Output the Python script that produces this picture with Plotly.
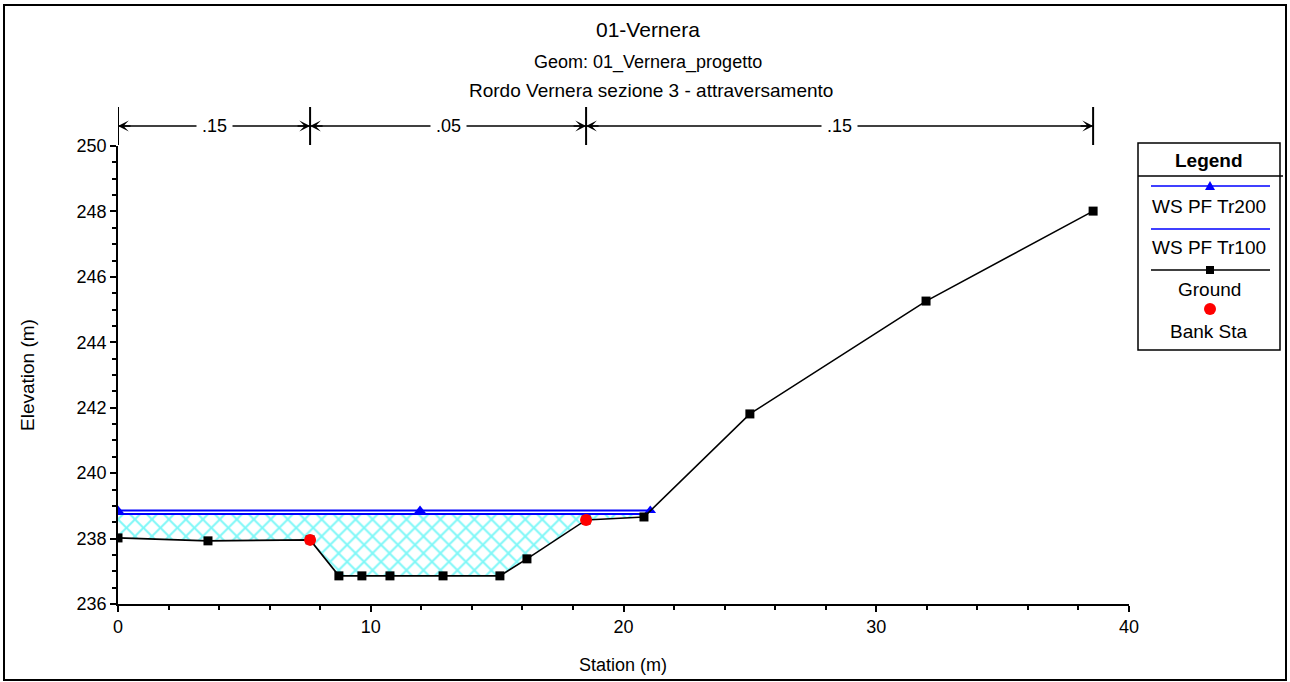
import plotly.graph_objects as go

# ---------------- data ----------------
ground_x = [0.0, 3.56, 7.60, 8.74, 9.65, 10.76, 12.86, 15.11, 16.18, 18.52, 20.81, 25.0, 31.97, 38.58]
ground_y = [238.02, 237.93, 237.96, 236.86, 236.86, 236.86, 236.86, 236.86, 237.38, 238.57, 238.66, 241.81, 245.26, 248.01]

bank_x = [7.60, 18.52]
bank_y = [237.96, 238.57]

ws200_x = [0.0, 11.95, 21.06]
ws200_y = [238.86, 238.86, 238.86]

ws100_x = [0.0, 20.93]
ws100_y = [238.75, 238.75]

n_breaks = [0.0, 7.60, 18.52, 38.58]
n_values = [".15", ".05", ".15"]

title = "01-Vernera"
subtitle1 = "Geom: 01_Vernera_progetto"
subtitle2 = "Rordo Vernera sezione 3 - attraversamento"

W, H = 1290, 682
FONT = "Arial, Liberation Sans, sans-serif"


def px(x):
    return x / W


def py(y):
    return 1 - y / H


def text(x, y, s, size, **kw):
    d = dict(x=px(x), y=py(y), xref="paper", yref="paper", text=s, showarrow=False,
             xanchor="center", yanchor="middle",
             font=dict(family=FONT, size=size, color="black"))
    d.update(kw)
    return d


fig = go.Figure()

# hatched water area (Tr100 surface down to ground)
fill_x = list(ws100_x) + [gx for gx in reversed(ground_x) if gx <= ws100_x[-1]]
fill_y = list(ws100_y) + [gy for gx, gy in zip(reversed(ground_x), reversed(ground_y)) if gx <= ws100_x[-1]]
fig.add_trace(go.Scatter(
    x=fill_x, y=fill_y, mode="lines", fill="toself",
    line=dict(width=0, color="rgba(0,0,0,0)"),
    fillcolor="white",
    fillpattern=dict(shape="x", fgcolor="#00F0F0", bgcolor="white", size=12, solidity=0.3),
    hoverinfo="skip", showlegend=False))

fig.add_trace(go.Scatter(
    x=ws200_x, y=ws200_y, mode="lines+markers", name="WS PF Tr200",
    line=dict(color="#0000FF", width=2),
    marker=dict(symbol="triangle-up", size=10, color="#0000FF"),
    showlegend=False))
fig.add_trace(go.Scatter(
    x=ws100_x, y=ws100_y, mode="lines", name="WS PF Tr100",
    line=dict(color="#0000FF", width=2), showlegend=False))
fig.add_trace(go.Scatter(
    x=ground_x, y=ground_y, mode="lines+markers", name="Ground",
    line=dict(color="black", width=1.6),
    marker=dict(symbol="square", size=9, color="black"),
    showlegend=False))
fig.add_trace(go.Scatter(
    x=bank_x, y=bank_y, mode="markers", name="Bank Sta",
    marker=dict(symbol="circle", size=12, color="#FF0000"),
    showlegend=False))

shapes = []
annotations = []

# figure border
shapes.append(dict(type="rect", xref="paper", yref="paper",
                   x0=px(4), x1=px(1286), y0=py(680), y1=py(5),
                   line=dict(color="black", width=2)))

# Manning's n markers
y_top, y_mid, y_bot = py(107), py(126), py(145)
for b in n_breaks:
    shapes.append(dict(type="line", xref="x", yref="paper", x0=b, x1=b, y0=y_bot, y1=y_top,
                       line=dict(color="black", width=2)))
shapes.append(dict(type="line", xref="x", yref="paper", x0=n_breaks[0], x1=n_breaks[-1],
                   y0=y_mid, y1=y_mid, line=dict(color="black", width=1.5)))
for i, lab in enumerate(n_values):
    a, b = n_breaks[i], n_breaks[i + 1]
    annotations.append(dict(x=(a + b) / 2, y=y_mid, xref="x", yref="paper", text=lab,
                            showarrow=False, bgcolor="white", borderpad=5,
                            xanchor="center", yanchor="middle",
                            font=dict(family=FONT, size=18, color="black")))
    for end, off in ((a, 14), (b, -14)):
        annotations.append(dict(x=end, y=y_mid, xref="x", yref="paper", text="",
                                showarrow=True, ax=off, ay=0, arrowhead=3, arrowsize=1.2,
                                arrowwidth=1.5, arrowcolor="black", standoff=0))

# titles
annotations.append(text(648, 30, title, 21))
annotations.append(text(648, 62, subtitle1, 18))
annotations.append(text(651, 90, subtitle2, 19))

# custom legend
shapes.append(dict(type="rect", xref="paper", yref="paper", x0=px(1138), x1=px(1280),
                   y0=py(350), y1=py(143), line=dict(color="black", width=1.5),
                   fillcolor="white"))
shapes.append(dict(type="line", xref="paper", yref="paper", x0=px(1138), x1=px(1283),
                   y0=py(176), y1=py(176), line=dict(color="black", width=1.5)))
annotations.append(text(1209, 160, "<b>Legend</b>", 19))

legend_items = [
    ("WS PF Tr200", 186, 207, "#0000FF", "triangle"),
    ("WS PF Tr100", 229, 247, "#0000FF", None),
    ("Ground", 270, 289, "black", "square"),
    ("Bank Sta", 309, 331, "#FF0000", "circle"),
]
cx = 1210
for name, ly, ty, col, sym in legend_items:
    if sym != "circle":
        shapes.append(dict(type="line", xref="paper", yref="paper", x0=px(1151), x1=px(1270),
                           y0=py(ly), y1=py(ly), line=dict(color=col, width=1.5)))
    if sym == "triangle":
        shapes.append(dict(type="path", xref="paper", yref="paper",
                           path=f"M {px(cx-5)},{py(ly+4)} L {px(cx+5)},{py(ly+4)} L {px(cx)},{py(ly-5)} Z",
                           fillcolor=col, line=dict(color=col, width=0)))
    elif sym == "square":
        shapes.append(dict(type="rect", xref="paper", yref="paper", x0=px(cx-4), x1=px(cx+4),
                           y0=py(ly+4), y1=py(ly-4), fillcolor=col, line=dict(color=col, width=0)))
    elif sym == "circle":
        shapes.append(dict(type="circle", xref="paper", yref="paper", x0=px(cx-6), x1=px(cx+6),
                           y0=py(ly+6), y1=py(ly-6), fillcolor=col, line=dict(color=col, width=0)))
    annotations.append(text(1209, ty, name, 19))

# axis titles
annotations.append(text(623, 665, "Station (m)", 18))
annotations.append(text(28, 375, "Elevation (m)", 19, textangle=-90))

fig.update_layout(
    width=W, height=H, autosize=False,
    margin=dict(l=0, r=0, t=0, b=0, pad=0, autoexpand=False),
    paper_bgcolor="white", plot_bgcolor="white",
    showlegend=False,
    shapes=shapes, annotations=annotations,
    font=dict(family=FONT, color="black"),
    xaxis=dict(domain=[px(118), px(1129)], range=[0, 40], dtick=10, tick0=0, automargin=False,
               showgrid=False, zeroline=False, showline=True, linecolor="black", linewidth=1.5,
               ticks="outside", ticklen=6, tickwidth=1.5, tickcolor="black",
               tickfont=dict(family=FONT, size=18, color="black"),
               minor=dict(dtick=2, ticks="outside", ticklen=4, tickwidth=1.5, tickcolor="black",
                          showgrid=False)),
    yaxis=dict(domain=[py(604), py(146)], range=[236, 250], dtick=2, tick0=236, automargin=False,
               showgrid=False, zeroline=False, showline=True, linecolor="black", linewidth=1.5,
               ticks="outside", ticklen=6, tickwidth=1.5, tickcolor="black",
               tickfont=dict(family=FONT, size=18, color="black"),
               minor=dict(dtick=0.5, ticks="outside", ticklen=4, tickwidth=1.5, tickcolor="black",
                          showgrid=False)),
)

fig.write_html("out.html")
